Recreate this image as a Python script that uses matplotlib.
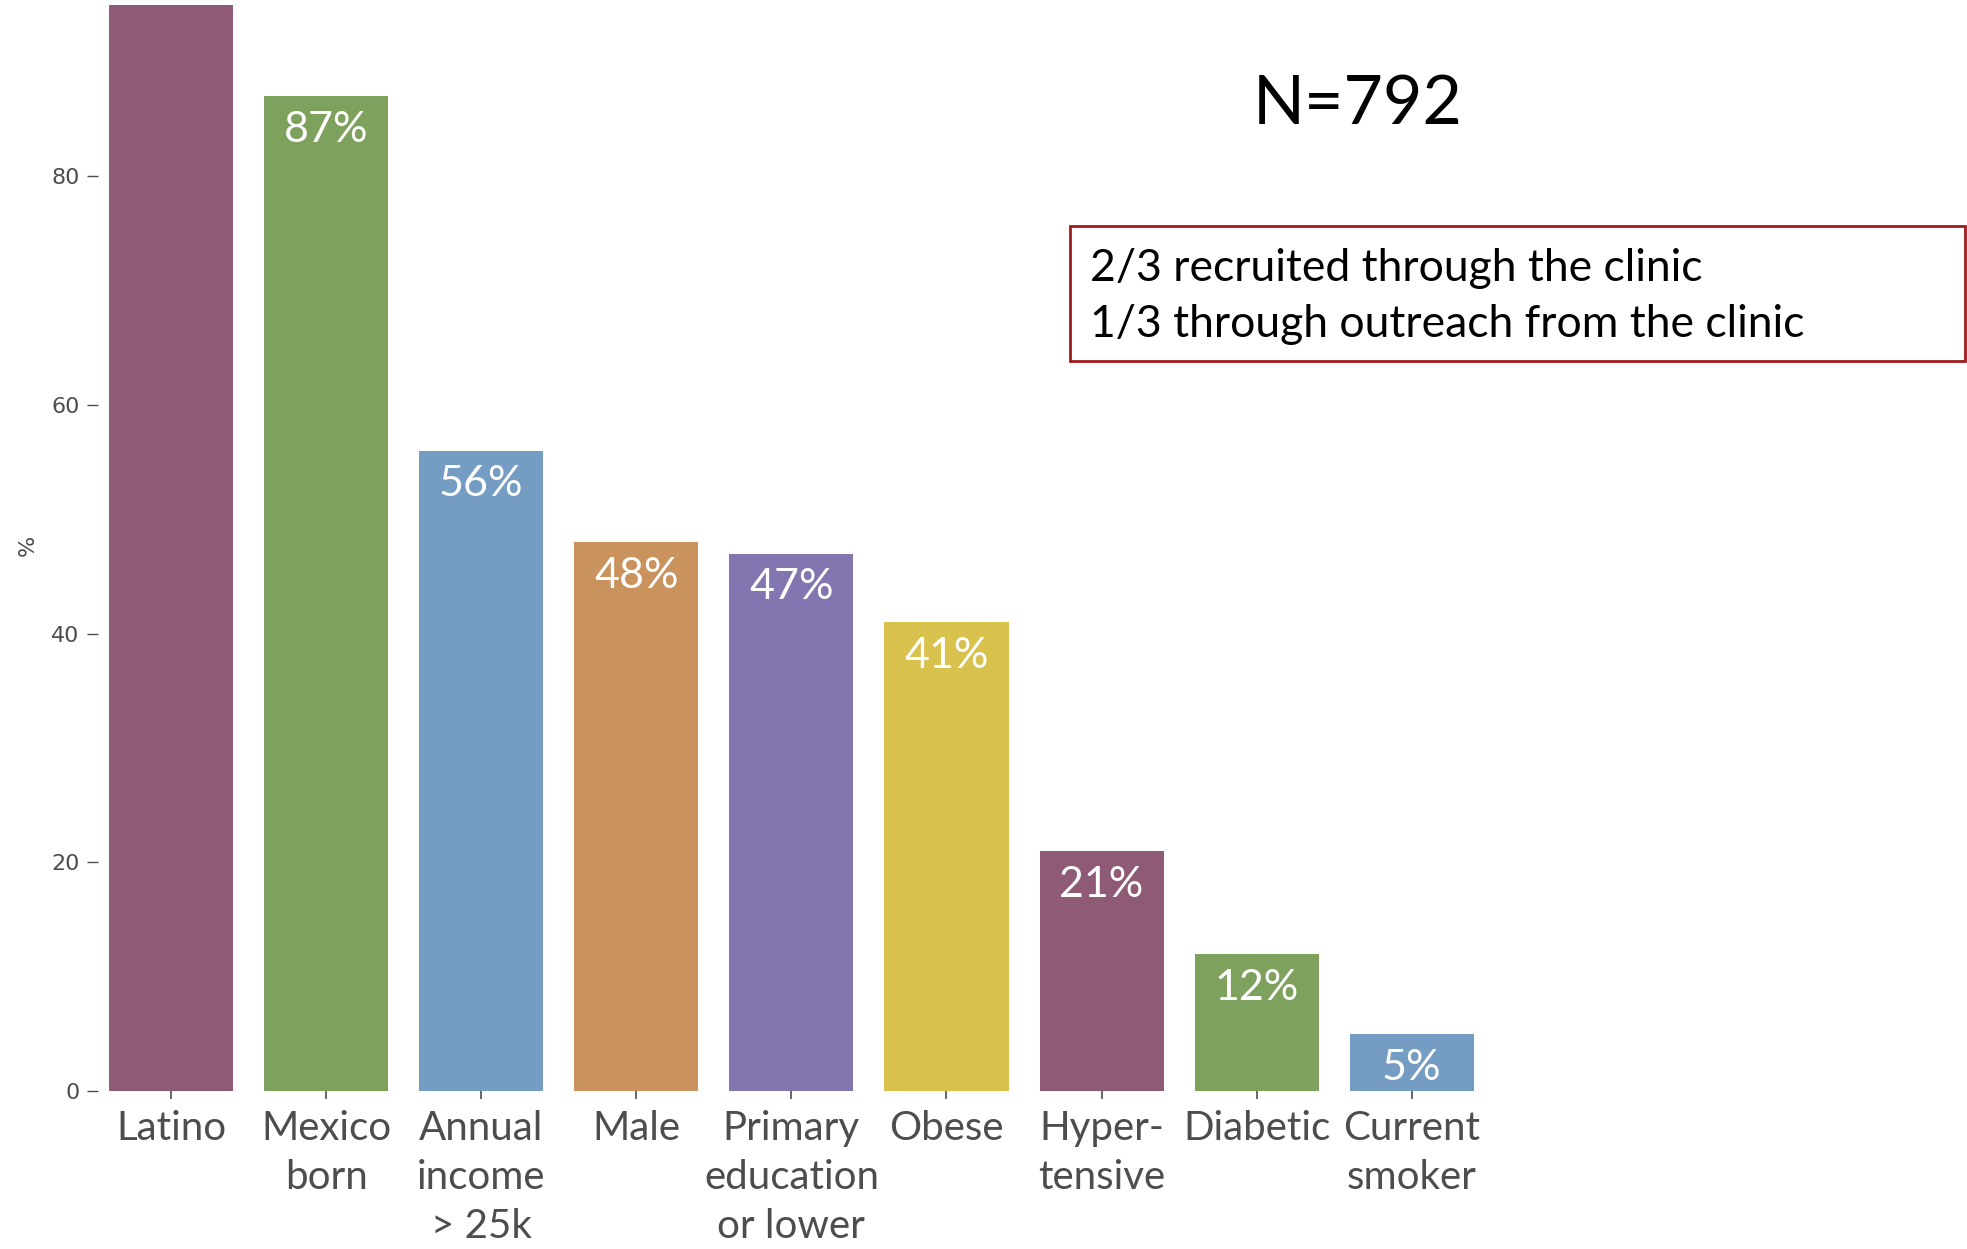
import matplotlib
matplotlib.use("Agg")
import matplotlib.pyplot as plt
from matplotlib.patches import Rectangle

# data
categories = ["Latino", "Mexico\nborn", "Annual\nincome\n> 25k", "Male",
              "Primary\neducation\nor lower", "Obese", "Hyper-\ntensive",
              "Diabetic", "Current\nsmoker"]
values = [95, 87, 56, 48, 47, 41, 21, 12, 5]
labels = ["", "87%", "56%", "48%", "47%", "41%", "21%", "12%", "5%"]
colors = ["#8f5a76", "#7fa15e", "#759cc3", "#ca935d", "#8375af",
          "#d8c24d", "#8f5a76", "#7fa15e", "#759cc3"]
yticks = [0, 20, 40, 60, 80]

n_text = "N=792"
box_lines = ["2/3 recruited through the clinic",
             "1/3 through outreach from the clinic"]

calib = ["Lato", "Open Sans", "DejaVu Sans"]

fig = plt.figure(figsize=(19.67, 12.49), dpi=100)
ax = fig.add_axes([0.0497, 0.1265, 0.7153, 0.8735])

x = list(range(1, len(values) + 1))
ax.bar(x, values, width=0.8, color=colors, zorder=2)

for xi, v, lab in zip(x, values, labels):
    if lab:
        ax.text(xi, v - 2.95, lab, ha="center", va="center", color="white",
                fontsize=31, family=calib, zorder=3)

ax.set_xlim(0.527, 9.6)
ax.set_ylim(0, 95.4)
ax.set_yticks(yticks)
ax.set_yticklabels([str(t) for t in yticks], fontsize=16, color="#4d4d4d")
ax.set_xticks(x)
ax.set_xticklabels(categories, fontsize=29, color="#4d4d4d", family=calib,
                   linespacing=1.4)
ax.tick_params(axis="y", length=8, width=1, color="#4d4d4d", pad=5)
ax.tick_params(axis="x", length=6, width=1.2, color="#4d4d4d", pad=8)
ax.set_ylabel("%", fontsize=16, color="#4d4d4d", labelpad=10)
for s in ax.spines.values():
    s.set_visible(False)

# annotations on the right
fig.text(0.690, 0.916, n_text, ha="center", va="center", fontsize=49,
         family=calib, color="black")
fig.patches.append(Rectangle((0.544, 0.711), 0.455, 0.108,
                             transform=fig.transFigure, fill=False,
                             edgecolor="#a01c1c", linewidth=2))
fig.text(0.554, 0.785, box_lines[0], ha="left", va="center", fontsize=32,
         family=calib, color="black")
fig.text(0.554, 0.740, box_lines[1], ha="left", va="center", fontsize=32,
         family=calib, color="black")

fig.savefig("out.png", dpi=100)
